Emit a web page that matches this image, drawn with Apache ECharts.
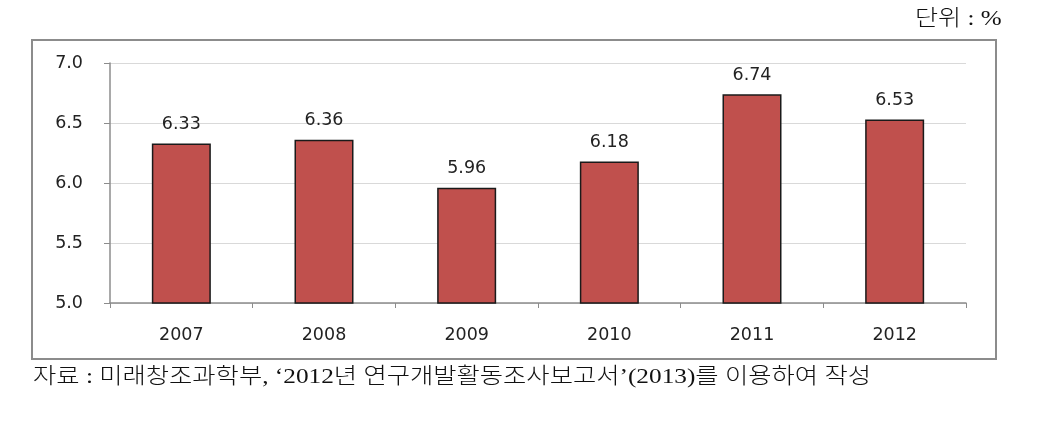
<!DOCTYPE html>
<html><head><meta charset="utf-8">
<script src="https://cdn.jsdelivr.net/npm/echarts@6/dist/echarts.min.js"></script>
<style>html,body{margin:0;padding:0;background:#fff}#c{width:1046px;height:421px}</style>
</head><body><div id="c"></div>
<script>
const categories = ['2007','2008','2009','2010','2011','2012'];
const values = [6.33, 6.36, 5.96, 6.18, 6.74, 6.53];
const yTicks = ['5.0','5.5','6.0','6.5','7.0'];
const unitText = '단위 : %';
const sourceText = '자료 : 미래창조과학부, ‘2012년 연구개발활동조사보고서’(2013)를 이용하여 작성';

const serifKR = '"Liberation Serif", "Noto Sans CJK KR"';
const chart = echarts.init(document.getElementById('c'));
chart.setOption({
  animation: false,
  backgroundColor: '#fff',
  graphic: [
    {type:'rect', shape:{x:32,y:40,width:964,height:319}, style:{fill:'none', stroke:'#8c8c8c', lineWidth:2}, z:-1},
    {type:'text', x: 915, y: 8, scaleX: 1.14, style:{text: unitText, font:'300 22px ' + serifKR, fill:'#111', textAlign:'left', textVerticalAlign:'top'}},
    {type:'text', x: 33, y: 366, scaleX: 1.15, style:{text: sourceText, font:'300 22px ' + serifKR, fill:'#111', textAlign:'left', textVerticalAlign:'top'}}
  ],
  grid: {left:110, right:80, top:63, bottom:118},
  xAxis: {
    type:'category', data: categories,
    axisLine:{lineStyle:{color:'#8c8c8c', width:1.5}},
    axisTick:{show:true, length:5, lineStyle:{color:'#8c8c8c'}},
    axisLabel:{fontFamily:'DejaVu Sans', fontSize:17.5, color:'#222', margin:23}
  },
  yAxis: {
    type:'value', min:5.0, max:7.0, interval:0.5,
    axisLine:{show:true, lineStyle:{color:'#8c8c8c', width:1.5}},
    axisTick:{show:true, length:6, lineStyle:{color:'#8c8c8c'}},
    splitLine:{lineStyle:{color:'#d9d9d9'}},
    axisLabel:{fontFamily:'DejaVu Sans', fontSize:17.5, color:'#222', margin:27,
      formatter: (v) => yTicks[Math.round((v-5.0)/0.5)]}
  },
  series: [{
    type:'bar', data: values, barWidth: 59,
    itemStyle:{color:'#C0504D', borderColor:'#1a1a1a', borderWidth:1.5},
    label:{show:true, position:'top', distance:10, fontFamily:'DejaVu Sans', fontSize:17.5, color:'#222',
      formatter:(p)=>p.value.toFixed(2)}
  }]
});
</script></body></html>
